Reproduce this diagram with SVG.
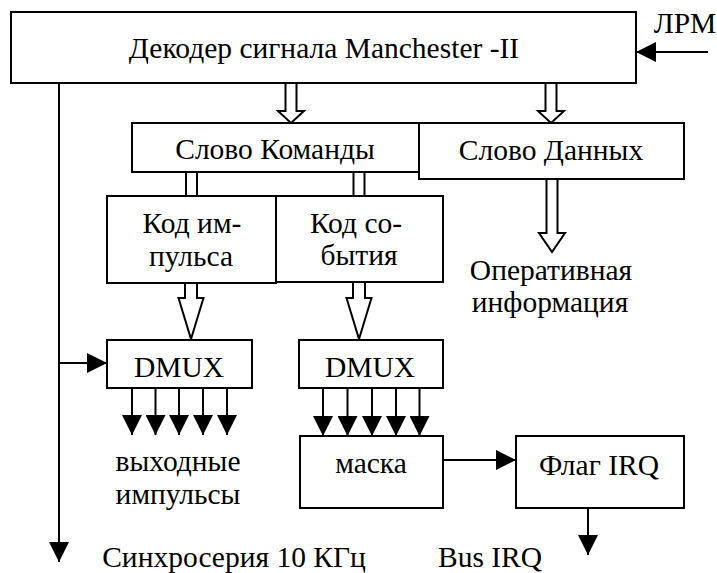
<svg xmlns="http://www.w3.org/2000/svg" width="717" height="573" viewBox="0 0 717 573">
<defs>
<marker id="ah" markerUnits="userSpaceOnUse" markerWidth="20" markerHeight="20" refX="20" refY="10" orient="auto">
<path d="M0,0 L20,10 L0,20 z" fill="#000"/>
</marker>
<style>
.box{fill:#fff;stroke:#000;stroke-width:2}
.ar{stroke:#000;stroke-width:2;fill:none;marker-end:url(#ah)}
.hol{fill:#fff;stroke:#000;stroke-width:2;stroke-linejoin:miter}
.t{font-family:'Liberation Serif','Times New Roman','DejaVu Serif',serif;font-size:29.5px;fill:#000;text-anchor:middle}
</style>
</defs>
<rect width="717" height="573" fill="#fff"/>
<g id="connectors">
<line class="ar" x1="708" y1="52" x2="636" y2="52"/>
<line class="ar" x1="59" y1="83" x2="59" y2="562"/>
<line class="ar" x1="59" y1="363" x2="107" y2="363"/>
<polygon class="hol" points="285.5,83 296.5,83 296.5,111 304,111 291,123 278,111 285.5,111"/>
<polygon class="hol" points="545.5,83 556.5,83 556.5,111 564,111 551,123 538,111 545.5,111"/>
<polygon class="hol" points="546.5,179 557.5,179 557.5,233 565,233 552,252 539,233 546.5,233"/>
<rect class="hol" x="186" y="172" width="11" height="24"/>
<rect class="hol" x="353.5" y="172" width="11" height="24"/>
<polygon class="hol" points="185,283 197,283 197,298 203.5,298 191,339 178.5,298 185,298"/>
<polygon class="hol" points="353,282 365,282 365,298 371.5,298 359,339 346.5,298 353,298"/>
<line class="ar" x1="132" y1="388" x2="132" y2="435"/>
<line class="ar" x1="155.5" y1="388" x2="155.5" y2="435"/>
<line class="ar" x1="179" y1="388" x2="179" y2="435"/>
<line class="ar" x1="203" y1="388" x2="203" y2="435"/>
<line class="ar" x1="227" y1="388" x2="227" y2="435"/>
<line class="ar" x1="323" y1="388" x2="323" y2="436"/>
<line class="ar" x1="347.5" y1="388" x2="347.5" y2="436"/>
<line class="ar" x1="372" y1="388" x2="372" y2="436"/>
<line class="ar" x1="396" y1="388" x2="396" y2="436"/>
<line class="ar" x1="419.5" y1="388" x2="419.5" y2="436"/>
<line class="ar" x1="443" y1="460" x2="516" y2="460"/>
<line class="ar" x1="588" y1="508" x2="588" y2="555"/>
</g>
<g id="decoder">
<rect class="box" x="11" y="12" width="625" height="71"/>
<text class="t" x="324" y="58">Декодер сигнала Manchester -II</text>
</g>
<g id="lrm"><text class="t" x="685" y="33">ЛРМ</text></g>
<g id="cmdword">
<rect class="box" x="132" y="123" width="288" height="49"/>
<text class="t" x="275" y="159">Слово Команды</text>
</g>
<g id="dataword">
<rect class="box" x="419" y="123" width="265" height="56"/>
<text class="t" x="551" y="160">Слово Данных</text>
</g>
<g id="opinfo">
<text class="t" x="551" y="280">Оперативная</text>
<text class="t" x="550" y="312">информация</text>
</g>
<g id="kodimp">
<rect class="box" x="107" y="196" width="169" height="87"/>
<text class="t" x="192" y="233">Код им-</text>
<text class="t" x="191" y="266">пульса</text>
</g>
<g id="kodsob">
<rect class="box" x="276" y="196" width="167" height="86"/>
<text class="t" x="356" y="233">Код со-</text>
<text class="t" x="359" y="265">бытия</text>
</g>
<g id="dmux1">
<rect class="box" x="107" y="340" width="145" height="48"/>
<text class="t" x="179" y="377">DMUX</text>
</g>
<g id="dmux2">
<rect class="box" x="299" y="340" width="144" height="48"/>
<text class="t" x="370" y="377">DMUX</text>
</g>
<g id="outpulses">
<text class="t" x="178" y="471">выходные</text>
<text class="t" x="178" y="504">импульсы</text>
</g>
<g id="mask">
<rect class="box" x="300" y="436" width="143" height="72"/>
<text class="t" x="371" y="473">маска</text>
</g>
<g id="flag">
<rect class="box" x="516" y="436" width="168" height="72"/>
<text class="t" x="599" y="475">Флаг IRQ</text>
</g>
<g id="sync"><text class="t" x="234" y="567">Синхросерия 10 КГц</text></g>
<g id="busirq"><text class="t" x="490" y="567">Bus IRQ</text></g>
</svg>
